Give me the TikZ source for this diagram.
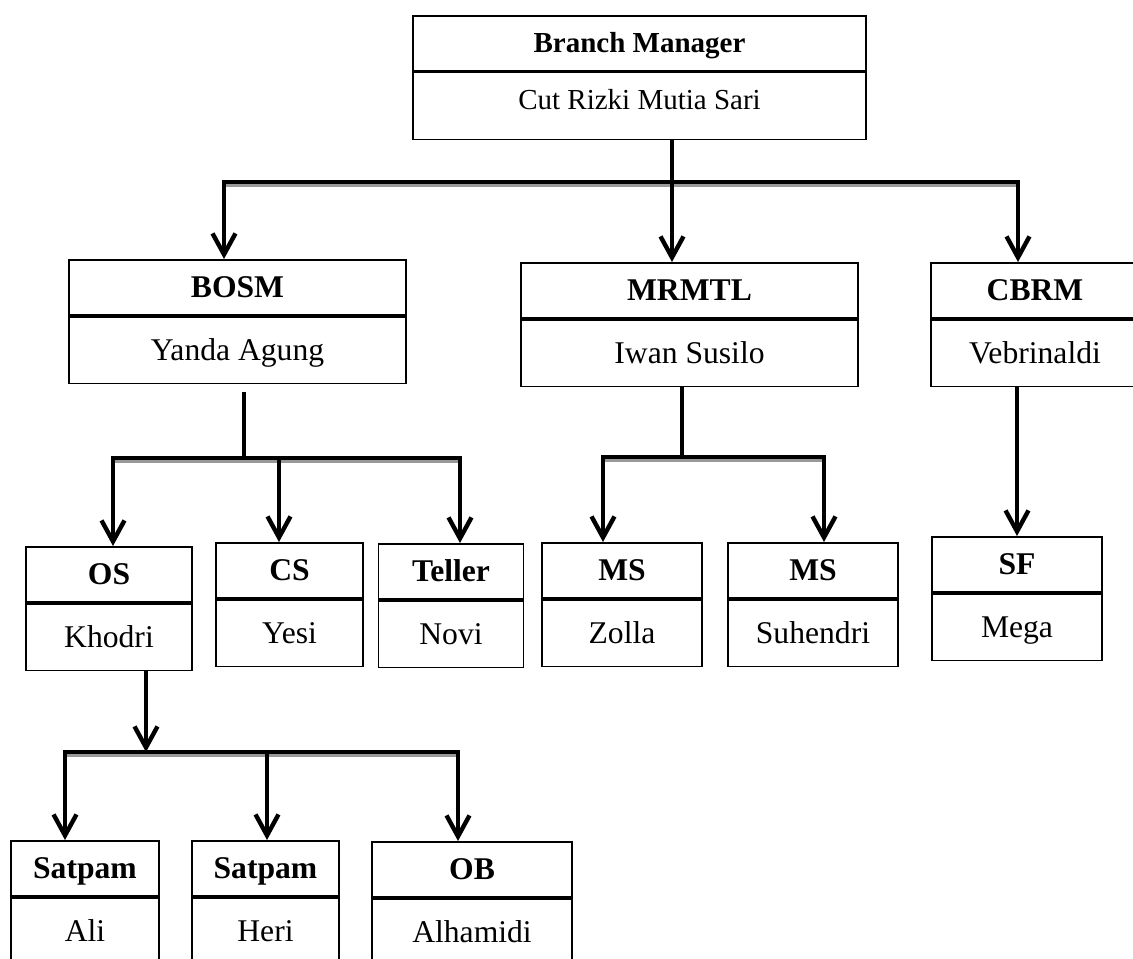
\documentclass[tikz,border=0pt]{standalone}
\usepackage{fontspec}
\setmainfont{Liberation Serif}
\usetikzlibrary{positioning,arrows.meta}

\begin{document}
\begin{tikzpicture}[
    x=0.02cm, y=-0.02cm,
    font=\fontsize{18}{21}\selectfont,
    titlebox/.style={draw, line width=1pt, minimum height=1.1cm, inner sep=0pt, text height=11.9pt, text depth=0pt, font=\fontsize{18}{21}\selectfont\bfseries},
    namebox/.style={draw, line width=1pt, minimum height=1.34cm, inner sep=0pt, text height=11.9pt, text depth=0pt},
    link/.style={line width=2.5pt},
    arrow/.style={-{Straight Barb[length=0.42cm, width=0.46cm]}, line width=2.5pt},
    bus/.style={line width=2.5pt, line cap=rect, preaction={draw=black!40, line width=2.5pt, transform canvas={yshift=-0.06cm}}}
  ]
  \useasboundingbox (0,0) rectangle (1133,959);

  % Branch manager
  \node[titlebox, minimum width=9.06cm, anchor=north, font=\fontsize{16.5}{19}\selectfont\bfseries, text height=10.9pt] (BMt) at (639.5,15) {Branch Manager};
  \node[namebox, minimum width=9.06cm, below=0pt of BMt, font=\fontsize{16.5}{19}\selectfont, text height=10.9pt, text depth=6.8pt] (BMn) {Cut Rizki Mutia Sari};

  % Second level
  \node[titlebox, minimum width=6.74cm, anchor=north] (BOSMt) at (237.5,259) {BOSM};
  \node[namebox, minimum width=6.74cm, below=0pt of BOSMt] (BOSMn) {Yanda Agung};
  \node[titlebox, minimum width=6.74cm, anchor=north] (MRMTLt) at (689.5,262) {MRMTL};
  \node[namebox, minimum width=6.74cm, below=0pt of MRMTLt] (MRMTLn) {Iwan Susilo};
  \node[titlebox, minimum width=4.16cm, anchor=north] (CBRMt) at (1035,262) {CBRM};
  \node[namebox, minimum width=4.16cm, below=0pt of CBRMt] (CBRMn) {Vebrinaldi};

  % Third level
  \node[titlebox, minimum width=3.32cm, anchor=north] (OSt) at (109,546) {OS};
  \node[namebox, minimum width=3.32cm, below=0pt of OSt] (OSn) {Khodri};
  \node[titlebox, minimum width=2.94cm, anchor=north] (CSt) at (289.5,542) {CS};
  \node[namebox, minimum width=2.94cm, below=0pt of CSt] (CSn) {Yesi};
  \node[titlebox, minimum width=2.9cm, anchor=north] (TLt) at (451,543) {Teller};
  \node[namebox, minimum width=2.9cm, below=0pt of TLt] (TLn) {Novi};
  \node[titlebox, minimum width=3.2cm, anchor=north] (MSat) at (622,542) {MS};
  \node[namebox, minimum width=3.2cm, below=0pt of MSat] (MSan) {Zolla};
  \node[titlebox, minimum width=3.4cm, anchor=north] (MSbt) at (813,542) {MS};
  \node[namebox, minimum width=3.4cm, below=0pt of MSbt] (MSbn) {Suhendri};
  \node[titlebox, minimum width=3.4cm, anchor=north] (SFt) at (1017,536) {SF};
  \node[namebox, minimum width=3.4cm, below=0pt of SFt] (SFn) {Mega};

  % Fourth level
  \node[titlebox, minimum width=2.96cm, anchor=north] (SPat) at (85,840) {Satpam};
  \node[namebox, minimum width=2.96cm, below=0pt of SPat] (SPan) {Ali};
  \node[titlebox, minimum width=2.94cm, anchor=north] (SPbt) at (265.5,840) {Satpam};
  \node[namebox, minimum width=2.94cm, below=0pt of SPbt] (SPbn) {Heri};
  \node[titlebox, minimum width=4cm, anchor=north] (OBt) at (472,841) {OB};
  \node[namebox, minimum width=4cm, below=0pt of OBt] (OBn) {Alhamidi};

  % Bus lines
  \coordinate (b1) at (672,182);
  \coordinate (b1l) at (224,182);
  \coordinate (b1r) at (1018,182);
  \coordinate (s2) at (244,392);
  \coordinate (b2) at (244,458);
  \coordinate (b2l) at (113,458);
  \coordinate (b2m) at (279,458);
  \coordinate (b2r) at (460,458);
  \coordinate (b3) at (682,457);
  \coordinate (b3l) at (603,457);
  \coordinate (b3r) at (824,457);
  \coordinate (b4) at (146,752);
  \coordinate (b4l) at (65,752);
  \coordinate (b4m) at (267,752);
  \coordinate (b4r) at (458,752);

  \draw[bus] (b1l) -- (b1r);
  \draw[bus] (b2l) -- (b2r);
  \draw[bus] (b3l) -- (b3r);
  \draw[bus] (b4l) -- (b4r);

  % Connectors
  \draw[link] (BMn.south -| b1) -- (b1);
  \draw[arrow] (b1l) -- (b1l |- BOSMt.north);
  \draw[arrow] (b1) -- (b1 |- MRMTLt.north);
  \draw[arrow] (b1r) -- (b1r |- CBRMt.north);

  \draw[link] (s2) -- (b2);
  \draw[arrow] (b2l) -- (b2l |- OSt.north);
  \draw[arrow] (b2m) -- (b2m |- CSt.north);
  \draw[arrow] (b2r) -- (b2r |- TLt.north);

  \draw[link] (MRMTLn.south -| b3) -- (b3);
  \draw[arrow] (b3l) -- (b3l |- MSat.north);
  \draw[arrow] (b3r) -- (b3r |- MSbt.north);

  \draw[arrow] (CBRMn.south -| SFt.north) -- (SFt.north);

  \draw[arrow] (OSn.south -| b4) -- (b4);
  \draw[arrow] (b4l) -- (b4l |- SPat.north);
  \draw[arrow] (b4m) -- (b4m |- SPbt.north);
  \draw[arrow] (b4r) -- (b4r |- OBt.north);
\end{tikzpicture}
\end{document}
